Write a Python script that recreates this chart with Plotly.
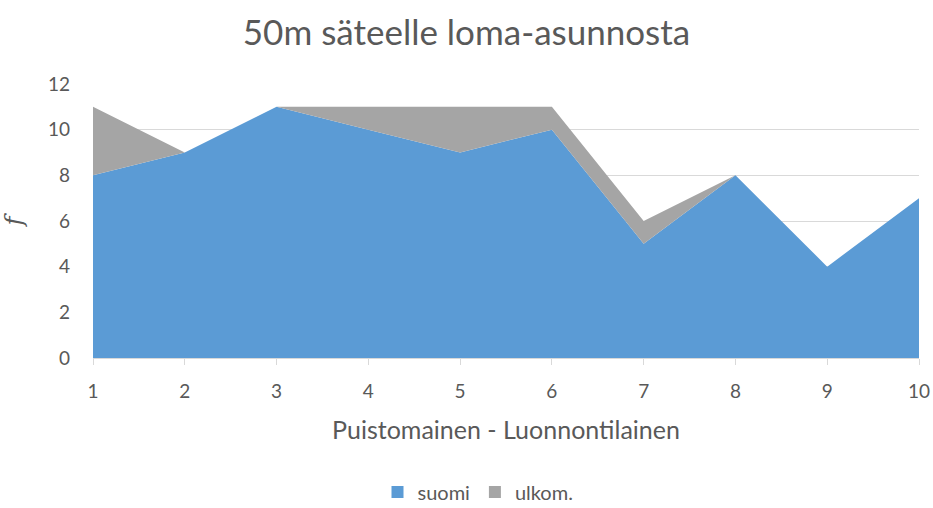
import plotly.graph_objects as go

categories = [1, 2, 3, 4, 5, 6, 7, 8, 9, 10]
suomi = [8, 9, 11, 10, 9, 10, 5, 8, 4, 7]
ulkom = [3, 0, 0, 1, 2, 1, 1, 0, 0, 0]
y_ticks = [0, 2, 4, 6, 8, 10, 12]

FONT = "Lato"
TXT = "#595959"
BLUE = "#5b9bd5"
GRAY = "#a5a5a5"

fig = go.Figure()
fig.add_trace(go.Scatter(x=categories, y=suomi, name="suomi", stackgroup="a",
                         mode="none", fillcolor=BLUE, line=dict(width=0), showlegend=False))
fig.add_trace(go.Scatter(x=categories, y=ulkom, name="ulkom.", stackgroup="a",
                         mode="none", fillcolor=GRAY, line=dict(width=0), showlegend=False))
# legend entries with square markers
fig.add_trace(go.Scatter(x=[None], y=[None], name="suomi", mode="markers",
                         marker=dict(symbol="square", size=12, color=BLUE)))
fig.add_trace(go.Scatter(x=[None], y=[None], name="ulkom.", mode="markers",
                         marker=dict(symbol="square", size=12, color=GRAY)))

fig.update_layout(
    width=933, height=508,
    margin=dict(l=93, r=14, t=84, b=150, autoexpand=False),
    paper_bgcolor="white", plot_bgcolor="white",
    font=dict(family=FONT, color=TXT, size=19),
    title=dict(text="50m säteelle loma-asunnosta", x=0.5, xanchor="center",
               y=1 - 33 / 508, yanchor="middle", font=dict(size=35, color=TXT, family=FONT)),
    showlegend=True,
    legend=dict(orientation="h", x=(478 - 93) / 826, xanchor="center", y=(358 - 492) / 274,
                yanchor="middle", font=dict(size=20, color=TXT), traceorder="normal",
                itemwidth=30, tracegroupgap=0),
    xaxis=dict(range=[1, 10], tickvals=categories, ticks="outside", ticklen=6,
               tickcolor="#d9d9d9", showgrid=False, showline=True, linecolor="#d9d9d9",
               linewidth=1, zeroline=False, tickfont=dict(size=19, color=TXT),
               ticklabelstandoff=10,
               title=dict(text="Puistomainen - Luonnontilainen", standoff=20,
                          font=dict(size=25, color=TXT))),
    yaxis=dict(range=[0, 12], tickvals=y_ticks, showgrid=True, gridcolor="#d9d9d9",
               zeroline=False, showline=False, ticks="", ticklabelstandoff=22,
               tickfont=dict(size=19, color=TXT),
               title=dict(text="<i>f</i>", standoff=22,
                          font=dict(size=24, color=TXT, family="DejaVu Serif"))),
)
fig.write_html("out.html", config={"displayModeBar": False},
               post_script="document.body.style.margin='0';")
